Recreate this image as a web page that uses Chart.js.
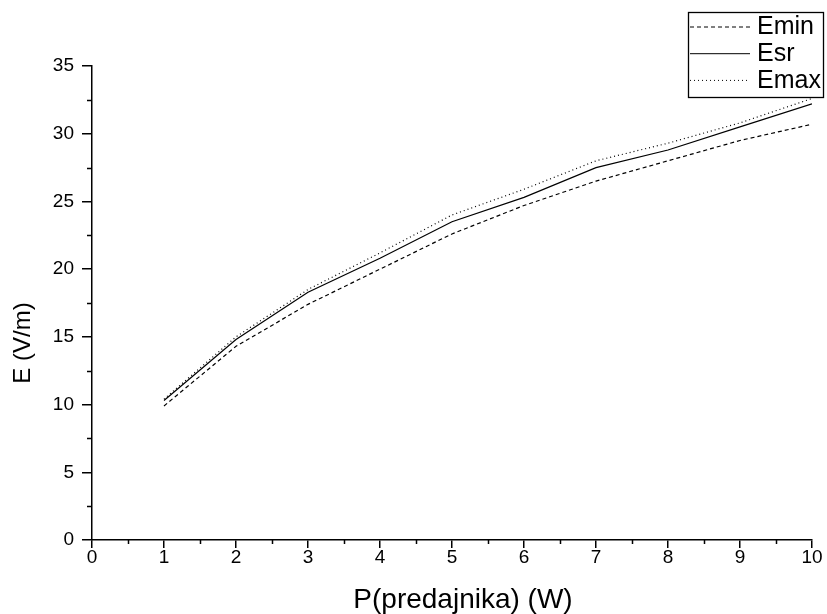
<!DOCTYPE html>
<html>
<head>
<meta charset="utf-8">
<script src="https://cdn.jsdelivr.net/npm/chart.js@4"></script>
<style>
html,body{margin:0;padding:0;background:#fff;}
#wrap{width:827px;height:614px;position:relative;}
</style>
</head>
<body>
<div id="wrap"><canvas id="c" width="827" height="614"></canvas></div>
<script>
const power = [1, 2, 3, 4, 5, 6, 7, 8, 9, 10];
const eMin = [9.9, 14.3, 17.4, 20.0, 22.6, 24.7, 26.5, 28.0, 29.5, 30.7];
const eSr  = [10.3, 14.8, 18.3, 20.8, 23.5, 25.3, 27.5, 28.8, 30.5, 32.2];
const eMax = [10.4, 15.0, 18.5, 21.2, 24.0, 25.9, 28.0, 29.3, 30.8, 32.6];
const seriesNames = ['Emin', 'Esr', 'Emax'];
const xTitle = 'P(predajnika) (W)';
const yTitle = 'E (V/m)';

const FONT = "'Liberation Sans', Arial, sans-serif";
const dashes = [[4, 3], [], [1, 3]];

function pts(vals) { return power.map((p, i) => ({x: p, y: vals[i]})); }

const minorTicks = {
  id: 'minorTicks',
  afterDraw(chart) {
    const ctx = chart.ctx;
    const xs = chart.scales.x, ys = chart.scales.y;
    ctx.save();
    ctx.strokeStyle = '#000';
    ctx.lineWidth = 1.5;
    ctx.beginPath();
    for (let v = 0.5; v < 10; v += 1) {
      const px = Math.round(xs.getPixelForValue(v)) + 0.5;
      ctx.moveTo(px, xs.top); ctx.lineTo(px, xs.top + 4);
    }
    for (let v = 2.5; v < 35; v += 5) {
      const py = Math.round(ys.getPixelForValue(v)) + 0.5;
      ctx.moveTo(ys.right, py); ctx.lineTo(ys.right - 5, py);
    }
    ctx.stroke();
    ctx.restore();
  }
};

const axisTitles = {
  id: 'axisTitles',
  afterDraw(chart) {
    const ctx = chart.ctx;
    const xs = chart.scales.x, ys = chart.scales.y;
    ctx.save();
    ctx.fillStyle = '#000';
    ctx.textAlign = 'center';
    ctx.textBaseline = 'middle';
    ctx.font = '28px ' + FONT;
    ctx.fillText(xTitle, (xs.left + xs.right) / 2 + 11, 600);
    ctx.translate(23, (ys.top + ys.bottom) / 2 + 40);
    ctx.rotate(-Math.PI / 2);
    ctx.font = '24px ' + FONT;
    ctx.fillText(yTitle, 0, 0);
    ctx.restore();
  }
};

const boxLegend = {
  id: 'boxLegend',
  afterDraw(chart) {
    const ctx = chart.ctx;
    ctx.save();
    const x0 = 688, y0 = 12, w = 135, h = 85;
    ctx.fillStyle = '#fff';
    ctx.fillRect(x0, y0, w, h);
    ctx.strokeStyle = '#000';
    ctx.lineWidth = 1.3;
    ctx.strokeRect(x0 + 0.5, y0 + 0.5, w, h);
    ctx.font = '25px ' + FONT;
    ctx.textBaseline = 'middle';
    ctx.fillStyle = '#000';
    chart.data.datasets.forEach((ds, i) => {
      const cy = y0 + 14.5 + i * 26.7;
      ctx.beginPath();
      ctx.setLineDash(ds.borderDash || []);
      ctx.lineWidth = 1;
      ctx.moveTo(x0 + 2, cy + 0.5);
      ctx.lineTo(x0 + 62, cy + 0.5);
      ctx.stroke();
      ctx.setLineDash([]);
      ctx.fillText(ds.label, x0 + 69, cy + 1);
    });
    ctx.restore();
  }
};

new Chart(document.getElementById('c'), {
  type: 'line',
  data: {
    datasets: [
      {label: seriesNames[0], data: pts(eMin), borderColor: '#000', borderWidth: 1.2, borderDash: dashes[0], pointRadius: 0, fill: false, tension: 0},
      {label: seriesNames[1], data: pts(eSr), borderColor: '#000', borderWidth: 1.2, borderDash: dashes[1], pointRadius: 0, fill: false, tension: 0},
      {label: seriesNames[2], data: pts(eMax), borderColor: '#000', borderWidth: 1.2, borderDash: dashes[2], pointRadius: 0, fill: false, tension: 0}
    ]
  },
  options: {
    responsive: false,
    animation: false,
    layout: {padding: {top: 66, right: 15, left: 0, bottom: 0}},
    plugins: {legend: {display: false}, tooltip: {enabled: false}},
    scales: {
      x: {
        type: 'linear', min: 0, max: 10,
        border: {display: true, color: '#000', width: 1.5},
        grid: {drawOnChartArea: false, drawTicks: true, tickLength: 8, color: '#000', lineWidth: 1.5},
        ticks: {stepSize: 1, color: '#000', padding: -2, font: {family: FONT, size: 19}, maxRotation: 0},
        title: {display: false},
        afterFit(s) { s.height = 74; }
      },
      y: {
        type: 'linear', min: 0, max: 35,
        border: {display: true, color: '#000', width: 1.5},
        grid: {drawOnChartArea: false, drawTicks: true, tickLength: 10, color: '#000', lineWidth: 1.5},
        ticks: {stepSize: 5, color: '#000', padding: 8, font: {family: FONT, size: 19}},
        title: {display: false},
        afterFit(s) { s.width = 92; }
      }
    }
  },
  plugins: [minorTicks, axisTitles, boxLegend]
});
</script>
</body>
</html>
